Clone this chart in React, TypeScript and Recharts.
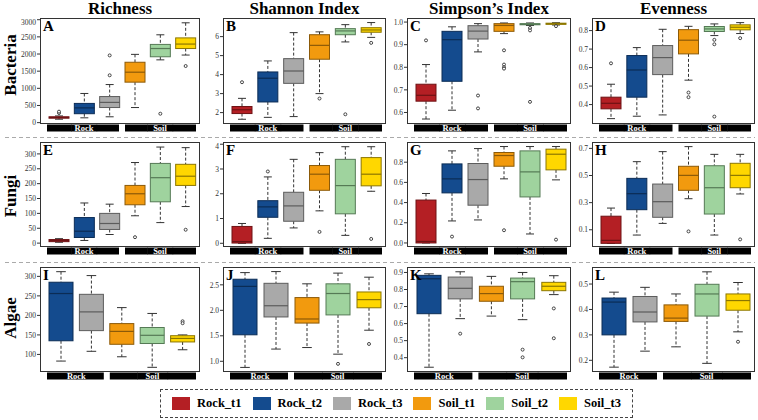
import React from "react";
import { ComposedChart, Bar, XAxis, YAxis } from "recharts";

const SERIF = '"Liberation Serif", "Times New Roman", serif';

const cats6 = ["Rock_t1", "Rock_t2", "Rock_t3", "Soil_t1", "Soil_t2", "Soil_t3"];
const cats5 = ["Rock_t2", "Rock_t3", "Soil_t1", "Soil_t2", "Soil_t3"];

// [min, q1, median, q3, max, outliers]
type Stat = [number, number, number, number, number, number[]];

const bacRichness: Stat[] = [
  [100, 130, 150, 170, 195, [280, 320]],
  [140, 260, 430, 560, 850, []],
  [170, 440, 590, 760, 1110, [1380, 1960]],
  [440, 1180, 1470, 1760, 1990, []],
  [1830, 1920, 2160, 2280, 2560, [260]],
  [1970, 2160, 2290, 2470, 2910, [1650]],
];
const bacShannon: Stat[] = [
  [1.65, 1.95, 2.15, 2.32, 2.75, [3.6]],
  [1.75, 2.56, 3.81, 4.14, 4.72, []],
  [1.79, 3.54, 4.19, 4.84, 6.21, []],
  [3.0, 4.81, 5.54, 6.1, 6.25, [2.74]],
  [5.72, 6.1, 6.3, 6.42, 6.63, [1.91]],
  [5.96, 6.23, 6.35, 6.47, 6.74, [5.67]],
];
const bacSimpson: Stat[] = [
  [0.571, 0.65, 0.676, 0.725, 0.812, [0.919]],
  [0.61, 0.738, 0.922, 0.959, 0.979, []],
  [0.868, 0.925, 0.96, 0.984, 0.993, [0.675, 0.618]],
  [0.949, 0.959, 0.985, 0.993, 0.996, [0.875, 0.812, 0.8, 0.794]],
  [0.985, 0.988, 0.99, 0.993, 0.996, [0.974, 0.963, 0.647]],
  [0.987, 0.99, 0.993, 0.995, 0.997, [0.982]],
];
const bacEvenness: Stat[] = [
  [0.324, 0.377, 0.407, 0.44, 0.51, [0.623]],
  [0.337, 0.44, 0.587, 0.665, 0.708, []],
  [0.344, 0.562, 0.654, 0.719, 0.807, []],
  [0.532, 0.674, 0.748, 0.805, 0.823, [0.465, 0.44]],
  [0.773, 0.795, 0.809, 0.822, 0.836, [0.75, 0.726, 0.335]],
  [0.784, 0.804, 0.818, 0.831, 0.843, [0.759]],
];

const funRichness: Stat[] = [
  [3, 5, 9, 12, 15, []],
  [9, 19, 40, 86, 135, []],
  [29, 46, 66, 100, 131, []],
  [92, 129, 166, 194, 271, [20]],
  [69, 139, 220, 268, 323, []],
  [123, 194, 225, 265, 321, [45]],
];
const funShannon: Stat[] = [
  [0, 0.01, 0.07, 0.68, 0.8, []],
  [0.2, 1.05, 1.47, 1.72, 2.68, [2.9]],
  [0.62, 0.89, 1.51, 2.06, 3.39, []],
  [1.31, 2.14, 2.79, 3.14, 3.66, [0.46]],
  [0.32, 1.19, 2.33, 3.39, 3.9, []],
  [2.1, 2.32, 2.79, 3.46, 3.9, [0.175]],
];
const funSimpson: Stat[] = [
  [0, 0, 0.015, 0.425, 0.49, []],
  [0.218, 0.496, 0.635, 0.783, 0.912, [0.063]],
  [0.228, 0.374, 0.628, 0.787, 0.935, []],
  [0.635, 0.76, 0.866, 0.896, 0.955, [0.126]],
  [0.089, 0.456, 0.704, 0.912, 0.955, []],
  [0.625, 0.724, 0.879, 0.929, 0.955, [0.033]],
];
const funEvenness: Stat[] = [
  [0, 0, 0.022, 0.2, 0.26, []],
  [0.061, 0.248, 0.366, 0.479, 0.602, []],
  [0.147, 0.192, 0.307, 0.437, 0.676, []],
  [0.329, 0.391, 0.501, 0.568, 0.713, [0.088]],
  [0.061, 0.216, 0.41, 0.572, 0.656, []],
  [0.364, 0.41, 0.501, 0.59, 0.656, [0.029]],
];

const algRichness: Stat[] = [
  [83, 135, 256, 285, 312, []],
  [108, 161, 209, 254, 302, []],
  [94, 126, 159, 179, 220, []],
  [67, 128, 149, 169, 205, []],
  [112, 132, 141, 148, 150, [185, 180]],
];
const algShannon: Stat[] = [
  [0.88, 1.52, 2.47, 2.61, 2.74, []],
  [1.24, 1.87, 2.09, 2.53, 2.76, []],
  [1.27, 1.75, 1.83, 2.25, 2.52, []],
  [1.14, 1.91, 2.33, 2.52, 2.73, [0.95]],
  [1.61, 2.05, 2.21, 2.36, 2.65, [1.34]],
];
const algSimpson: Stat[] = [
  [0.344, 0.658, 0.863, 0.883, 0.892, []],
  [0.629, 0.745, 0.807, 0.873, 0.904, [0.541]],
  [0.644, 0.731, 0.776, 0.819, 0.877, []],
  [0.623, 0.745, 0.846, 0.867, 0.9, [0.447, 0.402]],
  [0.77, 0.793, 0.819, 0.842, 0.881, [0.689, 0.514]],
];
const algEvenness: Stat[] = [
  [0.173, 0.3, 0.429, 0.445, 0.468, []],
  [0.236, 0.351, 0.39, 0.451, 0.487, []],
  [0.253, 0.353, 0.366, 0.418, 0.461, []],
  [0.188, 0.374, 0.461, 0.499, 0.548, []],
  [0.312, 0.397, 0.435, 0.461, 0.506, [0.273]],
];

const richTicksBac = [0, 500, 1000, 1500, 2000, 2500, 3000];
const shanTicksBac = [2, 3, 4, 5, 6];
const simpTicksBac = [0.6, 0.7, 0.8, 0.9, 1.0];
const evenTicksBac = [0.4, 0.5, 0.6, 0.7, 0.8];
const richTicksFun = [0, 50, 100, 150, 200, 250, 300];
const shanTicksFun = [0, 1, 2, 3, 4];
const simpTicksFun = [0, 0.2, 0.4, 0.6, 0.8];
const evenTicksFun = [0, 0.1, 0.2, 0.3, 0.4, 0.5, 0.6, 0.7];
const richTicksAlg = [100, 150, 200, 250, 300];
const shanTicksAlg = [1.0, 1.5, 2.0, 2.5];
const simpTicksAlg = [0.4, 0.5, 0.6, 0.7, 0.8, 0.9];
const evenTicksAlg = [0.2, 0.3, 0.4, 0.5];

const colTitles = ["Richness", "Shannon Index", "Simpson\u2019s Index", "Evenness"];
const rowTitles = ["Bacteria", "Fungi", "Algae"];

const palette: Record<string, { fill: string; line: string }> = {
  Rock_t1: { fill: "#B41F24", line: "#6E1214" },
  Rock_t2: { fill: "#144B8E", line: "#0B2C55" },
  Rock_t3: { fill: "#A9A9A9", line: "#5C5C5C" },
  Soil_t1: { fill: "#F29A0E", line: "#8C5A08" },
  Soil_t2: { fill: "#9FD39E", line: "#557A55" },
  Soil_t3: { fill: "#FFD700", line: "#8C7600" },
};

const colLeft = [40, 223, 407, 592];
const colW = [160, 163, 164, 163];
const rowTop = [18, 142, 267];
const rowH = [106, 105, 105];
const YW = 36;
const AXH = 10;

function BoxShape(props: any) {
  const { x, y, width, height, payload: p } = props;
  const top = Math.min(y, y + height);
  const bot = Math.max(y, y + height);
  const py = (v: number) => bot - ((v - p.min) / (p.max - p.min)) * (bot - top);
  const cx = x + width / 2;
  const col = palette[p.cat];
  const cap = width * 0.2;
  return (
    <g>
      <line x1={cx} x2={cx} y1={py(p.max)} y2={py(p.q3)} stroke="#333" strokeDasharray="3 2" />
      <line x1={cx} x2={cx} y1={py(p.q1)} y2={py(p.min)} stroke="#333" strokeDasharray="3 2" />
      <line x1={cx - cap} x2={cx + cap} y1={py(p.max)} y2={py(p.max)} stroke="#333" />
      <line x1={cx - cap} x2={cx + cap} y1={py(p.min)} y2={py(p.min)} stroke="#333" />
      <rect
        x={x}
        y={py(p.q3)}
        width={width}
        height={Math.max(py(p.q1) - py(p.q3), 0.5)}
        fill={col.fill}
        stroke={col.line}
        strokeWidth={1}
      />
      <line x1={x} x2={x + width} y1={py(p.med)} y2={py(p.med)} stroke={col.line} strokeWidth={1.2} />
      {p.out.map((v: number, i: number) => (
        <circle key={i} cx={cx} cy={py(v)} r={1.5} fill="#fff" stroke="#333" strokeWidth={0.9} />
      ))}
    </g>
  );
}

// black group strip under the panel, one piece per category, label drawn with the group's last piece
function StripTick(props: any) {
  const { x, payload, cats, band, h } = props;
  const group = payload.value.startsWith("Rock") ? "Rock" : "Soil";
  const members = cats.filter((c: string) => c.startsWith(group));
  const first = members[0] === payload.value;
  const last = members[members.length - 1] === payload.value;
  const l = x - band / 2 + (first ? (group === "Rock" ? 1 : 3) : 0);
  const r = x + band / 2 + (last ? (group === "Rock" ? -3 : -2) : 0.5);
  return (
    <g>
      <rect x={l} y={h + 0.5} width={r - l} height={7} fill="#000" />
      {last && (
        <text
          x={x - ((members.length - 1) * band) / 2}
          y={h + 6.9}
          textAnchor="middle"
          fill="#fff"
          fontFamily={SERIF}
          fontWeight="bold"
          fontSize={8.5}
        >
          {group}
        </text>
      )}
    </g>
  );
}

interface PanelProps {
  row: number;
  col: number;
  letter: string;
  cats: string[];
  stats: Stat[];
  domain: [number, number];
  ticks: number[];
  digits: number;
}

function Panel({ row, col, letter, cats, stats, domain, ticks, digits }: PanelProps) {
  const w = colW[col];
  const h = rowH[row];
  const padL = 6;
  const padR = 2;
  const band = (w - padL - padR) / cats.length;
  const barW = cats.length === 6 ? 20 : 24;
  const rows = cats.map((c, i) => ({
    cat: c,
    min: stats[i][0],
    q1: stats[i][1],
    med: stats[i][2],
    q3: stats[i][3],
    max: stats[i][4],
    out: stats[i][5],
  }));
  return (
    <div
      style={{
        position: "absolute",
        left: colLeft[col] - YW,
        top: rowTop[row],
        width: w + YW,
        height: h + AXH,
      }}
    >
      <ComposedChart width={w + YW} height={h + AXH} data={rows} margin={{ top: 0, right: 0, bottom: 0, left: 0 }}>
        <XAxis
          dataKey="cat"
          height={AXH}
          axisLine={false}
          tickLine={false}
          interval={0}
          padding={{ left: padL, right: padR }}
          tick={(p: any) => <StripTick {...p} cats={cats} band={band} h={h} />}
        />
        <YAxis
          type="number"
          width={YW}
          domain={domain}
          ticks={ticks}
          allowDataOverflow
          axisLine={false}
          tickSize={3}
          tickMargin={1}
          tickLine={{ stroke: "#333" }}
          tick={{ fontSize: 7.5, fill: "#333", fontFamily: SERIF }}
          tickFormatter={(v: number) => v.toFixed(digits)}
        />
        <Bar
          dataKey={(d: any) => [d.min, d.max]}
          barSize={barW}
          shape={(sp: any) => <BoxShape {...sp} />}
          isAnimationActive={false}
        />
      </ComposedChart>
      <div
        style={{
          position: "absolute",
          left: YW,
          top: 0,
          width: w,
          height: h,
          border: "1px solid #333",
          boxSizing: "border-box",
          pointerEvents: "none",
        }}
      />
      <div
        style={{
          position: "absolute",
          left: YW + 3,
          top: 1,
          fontFamily: SERIF,
          fontWeight: "bold",
          fontSize: 15,
          lineHeight: 1,
          color: "#000",
        }}
      >
        {letter}
      </div>
    </div>
  );
}

const legendItems = cats6;

export default function App() {
  const rowCenters = [65, 196, 318];
  return (
    <div style={{ position: "absolute", left: 0, top: 0, width: 758, height: 420, background: "#fff", overflow: "hidden" }}>
      <svg width={758} height={420} style={{ position: "absolute", left: 0, top: 0 }}>
        {colTitles.map((t, i) => (
          <text
            key={t}
            x={colLeft[i] + colW[i] / 2}
            y={13.5}
            textAnchor="middle"
            fontFamily={SERIF}
            fontWeight="bold"
            fontSize={17}
          >
            {t}
          </text>
        ))}
        {rowTitles.map((t, i) => (
          <text
            key={t}
            transform={`translate(15.5, ${rowCenters[i]}) rotate(-90)`}
            textAnchor="middle"
            fontFamily={SERIF}
            fontWeight="bold"
            fontSize={17}
          >
            {t}
          </text>
        ))}
        <line x1={5} x2={755} y1={137.5} y2={137.5} stroke="#aaa" strokeDasharray="4 3" />
        <line x1={5} x2={755} y1={262.5} y2={262.5} stroke="#aaa" strokeDasharray="4 3" />
      </svg>

      <Panel row={0} col={0} letter="A" cats={cats6} stats={bacRichness} domain={[-40, 3050]} ticks={richTicksBac} digits={0} />
      <Panel row={0} col={1} letter="B" cats={cats6} stats={bacShannon} domain={[1.4, 6.98]} ticks={shanTicksBac} digits={0} />
      <Panel row={0} col={2} letter="C" cats={cats6} stats={bacSimpson} domain={[0.549, 1.018]} ticks={simpTicksBac} digits={1} />
      <Panel row={0} col={3} letter="D" cats={cats6} stats={bacEvenness} domain={[0.295, 0.868]} ticks={evenTicksBac} digits={1} />

      <Panel row={1} col={0} letter="E" cats={cats6} stats={funRichness} domain={[-13, 340]} ticks={richTicksFun} digits={0} />
      <Panel row={1} col={1} letter="F" cats={cats6} stats={funShannon} domain={[-0.15, 4.09]} ticks={shanTicksFun} digits={0} />
      <Panel row={1} col={2} letter="G" cats={cats6} stats={funSimpson} domain={[-0.04, 1.0]} ticks={simpTicksFun} digits={1} />
      <Panel row={1} col={3} letter="H" cats={cats6} stats={funEvenness} domain={[-0.027, 0.747]} ticks={evenTicksFun} digits={1} />

      <Panel row={2} col={0} letter="I" cats={cats5} stats={algRichness} domain={[55, 324]} ticks={richTicksAlg} digits={0} />
      <Panel row={2} col={1} letter="J" cats={cats5} stats={algShannon} domain={[0.79, 2.85]} ticks={shanTicksAlg} digits={1} />
      <Panel row={2} col={2} letter="K" cats={cats5} stats={algSimpson} domain={[0.316, 0.932]} ticks={simpTicksAlg} digits={1} />
      <Panel row={2} col={3} letter="L" cats={cats5} stats={algEvenness} domain={[0.154, 0.567]} ticks={evenTicksAlg} digits={1} />

      <div
        style={{
          position: "absolute",
          left: 160,
          top: 389,
          width: 473,
          height: 29,
          border: "1px dashed #444",
          boxSizing: "border-box",
          display: "flex",
          alignItems: "center",
          justifyContent: "center",
          gap: 11,
          fontFamily: SERIF,
          fontWeight: "bold",
          fontSize: 12.5,
        }}
      >
        {legendItems.map((c) => (
          <div key={c} style={{ display: "flex", alignItems: "center", gap: 7 }}>
            <div style={{ width: 18, height: 13, background: palette[c].fill }} />
            <span>{c}</span>
          </div>
        ))}
      </div>
    </div>
  );
}
